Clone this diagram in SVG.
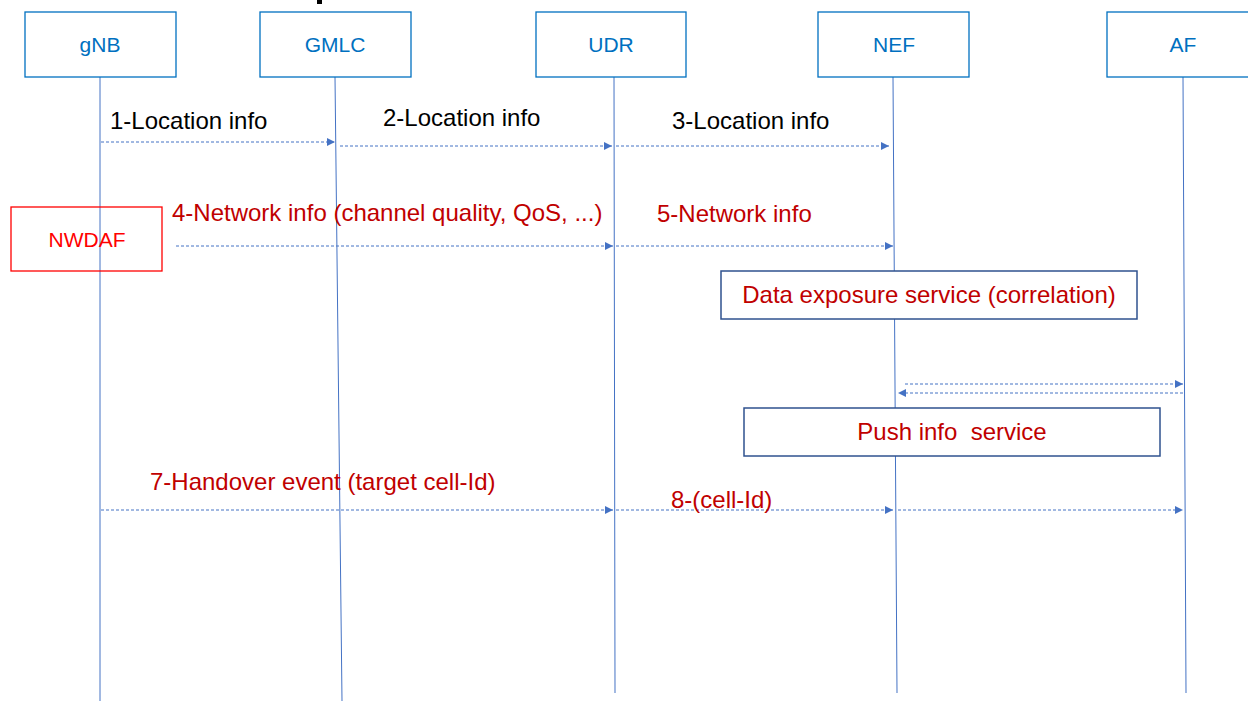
<svg xmlns="http://www.w3.org/2000/svg" width="1248" height="701" viewBox="0 0 1248 701">
<style>
.box{fill:#fff;stroke:#0070C0;stroke-width:1.3}
.bt{font-family:"Liberation Sans",Arial,sans-serif;font-size:21px;fill:#0070C0;text-anchor:middle}
.life{stroke:#4472C4;stroke-width:1;fill:none}
.msg{stroke:#4472C4;stroke-width:1;stroke-dasharray:3 2;fill:none;marker-end:url(#ah)}
.lb{font-family:"Liberation Sans",Arial,sans-serif;font-size:24px}
.blk{fill:#000}
.red{fill:#C00000}
.svc{fill:#fff;stroke:#2F528F;stroke-width:1.5}
</style>
<defs>
<marker id="ah" viewBox="0 0 10 10" refX="10" refY="5" markerWidth="8" markerHeight="8" markerUnits="userSpaceOnUse" orient="auto">
<path d="M0,0 L10,5 L0,10 z" fill="#4472C4"/>
</marker>
</defs>
<rect x="317" y="0" width="5" height="4" fill="#000"/>
<g id="lifelines">
<line class="life" x1="100" y1="77" x2="100" y2="701"/>
<line class="life" x1="335" y1="77" x2="342" y2="701"/>
<line class="life" x1="614" y1="77" x2="615" y2="693"/>
<line class="life" x1="893" y1="77" x2="897" y2="693"/>
<line class="life" x1="1183" y1="77" x2="1186" y2="693"/>
</g>
<g id="gNB"><rect class="box" x="25" y="12" width="151" height="65"/><text class="bt" x="100" y="52">gNB</text></g>
<g id="GMLC"><rect class="box" x="260" y="12" width="151" height="65"/><text class="bt" x="335" y="52">GMLC</text></g>
<g id="UDR"><rect class="box" x="536" y="12" width="150" height="65"/><text class="bt" x="611" y="52">UDR</text></g>
<g id="NEF"><rect class="box" x="818" y="12" width="151" height="65"/><text class="bt" x="894" y="52">NEF</text></g>
<g id="AF"><rect class="box" x="1107" y="12" width="151" height="65"/><text class="bt" x="1183" y="52">AF</text></g>
<g id="NWDAF"><rect x="11" y="207" width="151" height="64" fill="none" stroke="#FF0000" stroke-width="1.3"/><text x="87" y="247" font-family="Liberation Sans, Arial, sans-serif" font-size="21" fill="#FF0000" text-anchor="middle">NWDAF</text></g>
<g id="dataExposure"><rect class="svc" x="721" y="271" width="416" height="48"/><text class="lb red" x="929" y="303" text-anchor="middle">Data exposure service (correlation)</text></g>
<g id="pushInfo"><rect class="svc" x="744" y="408" width="416" height="48"/><text class="lb red" x="952" y="440" text-anchor="middle" xml:space="preserve">Push info  service</text></g>
<g id="connectors">
<line class="msg" x1="101" y1="142" x2="335" y2="142"/>
<line class="msg" x1="340" y1="146" x2="612" y2="146"/>
<line class="msg" x1="616" y1="146" x2="889" y2="146"/>
<line class="msg" x1="176" y1="246" x2="613" y2="246"/>
<line class="msg" x1="616" y1="246" x2="893" y2="246"/>
<line class="msg" x1="905" y1="384" x2="1183" y2="384"/>
<line class="msg" x1="1183" y1="393" x2="898" y2="393"/>
<line class="msg" x1="101" y1="510" x2="613" y2="510"/>
<line class="msg" x1="616" y1="510" x2="893" y2="510"/>
<line class="msg" x1="898" y1="510" x2="1183" y2="510"/>
</g>
<g id="labels">
<text class="lb blk" x="110" y="129">1-Location info</text>
<text class="lb blk" x="383" y="126">2-Location info</text>
<text class="lb blk" x="672" y="129">3-Location info</text>
<text class="lb red" x="172" y="221">4-Network info (channel quality, QoS, ...)</text>
<text class="lb red" x="657" y="222">5-Network info</text>
<text class="lb red" x="150" y="490">7-Handover event (target cell-Id)</text>
<text class="lb red" x="671" y="508">8-(cell-Id)</text>
</g>
</svg>
